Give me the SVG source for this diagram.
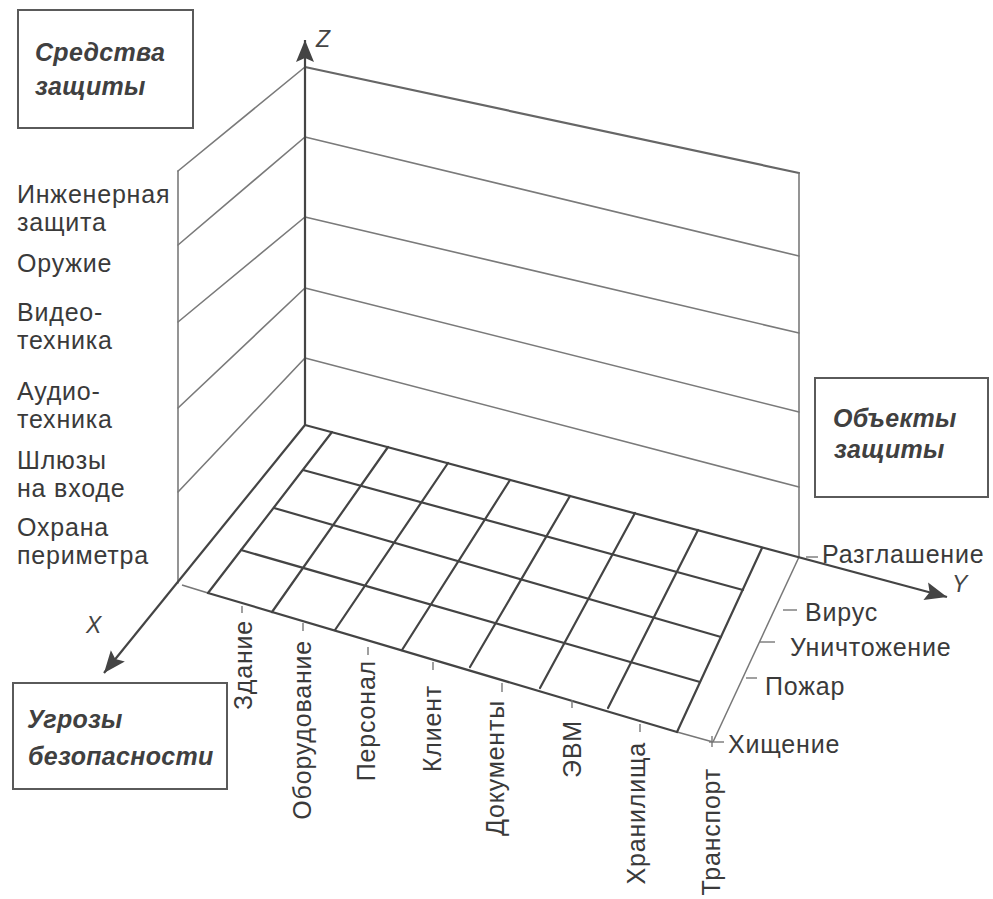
<svg xmlns="http://www.w3.org/2000/svg" width="993" height="899" viewBox="0 0 993 899">
<defs>
<marker id="arr" viewBox="-24 -10 26 20" markerWidth="26" markerHeight="20" refX="0" refY="0" orient="auto" markerUnits="userSpaceOnUse">
<path d="M0,0 L-22,-9 L-18,0 L-22,9 Z" fill="#444"/>
</marker>
<style>
.wall{stroke:#7a7a7a;stroke-width:1.6;fill:none;stroke-linecap:round}
.edge{stroke:#666;stroke-width:2.2;fill:none;stroke-linecap:round}
.grid{stroke:#444;stroke-width:2.2;fill:none;stroke-linecap:round}
.thin{stroke:#777;stroke-width:1.5;fill:none}
.axis{stroke:#444;stroke-width:2.2;fill:none}
.tick{stroke:#777;stroke-width:1.4;fill:none}
.box{fill:#fff;stroke:#5a5a5a;stroke-width:2}
.lbl{font-family:"Liberation Sans",Arial,sans-serif;font-size:25px;fill:#3a3a3a;letter-spacing:0.8px}
.ttl{font-family:"Liberation Sans",Arial,sans-serif;font-size:25px;font-weight:bold;font-style:italic;fill:#404040;letter-spacing:0.3px}
.ax{font-family:"Liberation Sans",Arial,sans-serif;font-size:23px;font-style:italic;fill:#444}
</style>
</defs>
<rect width="993" height="899" fill="#fff"/>

<g id="back-wall">
<line class="edge" x1="305" y1="67" x2="799" y2="173"/>
<line class="wall" x1="305" y1="137" x2="799" y2="256"/>
<line class="wall" x1="305" y1="217" x2="799" y2="333"/>
<line class="wall" x1="305" y1="288" x2="799" y2="412"/>
<line class="wall" x1="305" y1="358" x2="799" y2="487"/>
<line class="wall" x1="799" y1="173" x2="799" y2="557"/>
</g>

<g id="left-wall">
<line class="wall" x1="178" y1="171" x2="178" y2="583"/>
<line class="wall" x1="178" y1="171" x2="305" y2="67"/>
<line class="wall" x1="178" y1="245" x2="305" y2="137"/>
<line class="wall" x1="178" y1="322" x2="305" y2="217"/>
<line class="wall" x1="178" y1="408" x2="305" y2="288"/>
<line class="wall" x1="178" y1="492" x2="305" y2="358"/>
</g>

<g id="floor">
<line class="thin" x1="182" y1="585" x2="208" y2="593"/>
<line class="thin" x1="677" y1="732" x2="713" y2="742"/>
<line class="thin" x1="799" y1="557" x2="713" y2="742"/>
<line class="grid" x1="332" y1="432" x2="208" y2="593"/>
<line class="grid" x1="388" y1="447" x2="272" y2="612"/>
<line class="grid" x1="448" y1="463" x2="335" y2="630"/>
<line class="grid" x1="510" y1="480" x2="402" y2="650"/>
<line class="grid" x1="570" y1="496" x2="470" y2="667"/>
<line class="grid" x1="635" y1="513" x2="540" y2="688"/>
<line class="grid" x1="698" y1="530" x2="608" y2="708"/>
<line class="grid" x1="762" y1="548" x2="677" y2="732"/>
<line class="grid" x1="303" y1="470" x2="743" y2="590"/>
<line class="grid" x1="274" y1="508" x2="721" y2="637"/>
<line class="grid" x1="241" y1="550" x2="700" y2="682"/>
<line class="grid" x1="208" y1="593" x2="677" y2="732"/>
</g>

<g id="axes">
<line class="axis" x1="305" y1="425" x2="305" y2="40" marker-end="url(#arr)"/>
<line class="axis" x1="305" y1="425" x2="104" y2="673" marker-end="url(#arr)"/>
<line class="axis" x1="305" y1="425" x2="947" y2="597" stroke-width="2.6" marker-end="url(#arr)"/>
<text class="ax" x="316" y="47">Z</text>
<text class="ax" x="86" y="633">X</text>
<text class="ax" x="952" y="592">Y</text>
</g>

<g id="box-sredstva">
<rect class="box" x="18" y="10" width="175" height="118"/>
<text class="ttl" x="35" y="61">Средства</text>
<text class="ttl" x="35" y="95">защиты</text>
</g>

<g id="box-obekty">
<rect class="box" x="815" y="378" width="173" height="119"/>
<text class="ttl" x="833" y="427">Объекты</text>
<text class="ttl" x="834" y="458">защиты</text>
</g>

<g id="box-ugrozy">
<rect class="box" x="13" y="683" width="214" height="106"/>
<text class="ttl" x="27" y="728">Угрозы</text>
<text class="ttl" x="28" y="765">безопасности</text>
</g>

<g id="z-labels">
<text class="lbl" x="17" y="203">Инженерная</text>
<text class="lbl" x="17" y="231">защита</text>
<text class="lbl" x="17" y="272">Оружие</text>
<text class="lbl" x="17" y="321">Видео-</text>
<text class="lbl" x="17" y="349">техника</text>
<text class="lbl" x="17" y="400">Аудио-</text>
<text class="lbl" x="17" y="428">техника</text>
<text class="lbl" x="17" y="469">Шлюзы</text>
<text class="lbl" x="17" y="497">на входе</text>
<text class="lbl" x="17" y="536">Охрана</text>
<text class="lbl" x="17" y="564">периметра</text>
</g>

<g id="y-labels">
<line class="tick" x1="806" y1="557" x2="818" y2="557"/>
<line class="tick" x1="783" y1="610" x2="797" y2="610"/>
<line class="tick" x1="760" y1="642" x2="775" y2="642"/>
<line class="tick" x1="746" y1="678" x2="757" y2="678"/>
<line class="tick" x1="709" y1="742" x2="724" y2="742"/>
<text class="lbl" x="822" y="563">Разглашение</text>
<text class="lbl" x="805" y="621">Вирус</text>
<text class="lbl" x="790" y="656">Уничтожение</text>
<text class="lbl" x="765" y="695">Пожар</text>
<text class="lbl" x="728" y="753">Хищение</text>
</g>

<g id="x-labels">
<line class="tick" x1="242" y1="606" x2="242" y2="613"/>
<line class="tick" x1="303" y1="623" x2="303" y2="631"/>
<line class="tick" x1="368" y1="647" x2="368" y2="655"/>
<line class="tick" x1="433" y1="662" x2="433" y2="670"/>
<line class="tick" x1="502" y1="683" x2="502" y2="692"/>
<line class="tick" x1="572" y1="700" x2="572" y2="708"/>
<line class="tick" x1="640" y1="724" x2="640" y2="732"/>
<line class="tick" x1="712" y1="736" x2="712" y2="747"/>
<text class="lbl" text-anchor="end" transform="translate(252,620) rotate(-90)">Здание</text>
<text class="lbl" text-anchor="end" transform="translate(311,640) rotate(-90)">Оборудование</text>
<text class="lbl" text-anchor="end" transform="translate(375,660) rotate(-90)">Персонал</text>
<text class="lbl" text-anchor="end" transform="translate(441,685) rotate(-90)">Клиент</text>
<text class="lbl" text-anchor="end" transform="translate(504,700) rotate(-90)">Документы</text>
<text class="lbl" text-anchor="end" transform="translate(581,720) rotate(-90)">ЭВМ</text>
<text class="lbl" text-anchor="end" transform="translate(645,742) rotate(-90)">Хранилища</text>
<text class="lbl" text-anchor="end" transform="translate(720,768) rotate(-90)">Транспорт</text>
</g>
</svg>
